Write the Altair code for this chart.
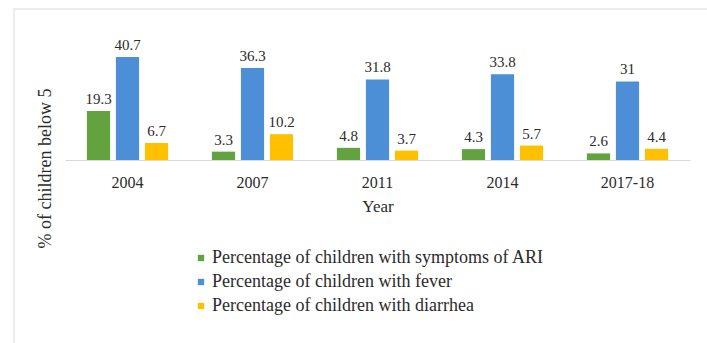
import altair as alt
import pandas as pd

years = ["2004", "2007", "2011", "2014", "2017-18"]
series = [
    "Percentage of children with symptoms of ARI",
    "Percentage of children with fever",
    "Percentage of children with diarrhea",
]
ari = [19.3, 3.3, 4.8, 4.3, 2.6]
fever = [40.7, 36.3, 31.8, 33.8, 31.0]
diarrhea = [6.7, 10.2, 3.7, 5.7, 4.4]
colors = ["#62A33F", "#4C8FD6", "#FFC000"]

rows = []
for vals, s in zip([ari, fever, diarrhea], series):
    for y, v in zip(years, vals):
        rows.append({"Year": y, "Series": s, "Value": v,
                     "Label": f"{v:g}"})
df = pd.DataFrame(rows)

FONT = "'Liberation Serif', 'Times New Roman', 'DejaVu Serif', serif"
TXT = "#2B2B2B"

x_enc = alt.X("Year:N", sort=years,
              scale=alt.Scale(paddingInner=0.304, paddingOuter=0.152),
              axis=alt.Axis(title="Year", labelAngle=0, ticks=False,
                            domainColor="#D9D9D9", labelFontSize=16,
                            labelFont=FONT, labelColor=TXT, labelPadding=14,
                            titleFont=FONT, titleFontSize=17, titleColor=TXT,
                            titleFontWeight="normal", titlePadding=8))
xo_enc = alt.XOffset("Series:N", sort=series,
                     scale=alt.Scale(paddingInner=0.2, paddingOuter=0.1))
y_enc = alt.Y("Value:Q", scale=alt.Scale(domain=[0, 45]),
              axis=alt.Axis(title="% of children below 5", labels=False,
                            ticks=False, domain=False, grid=False,
                            titleFont=FONT, titleFontSize=18, titleColor=TXT,
                            titleFontWeight="normal", titleAngle=270,
                            titleX=-20, titleY=122, titleAlign="center",
                            titleBaseline="middle"))

bars = alt.Chart(df).mark_bar().encode(
    x=x_enc, xOffset=xo_enc, y=y_enc,
    color=alt.Color("Series:N", sort=series,
                    scale=alt.Scale(domain=series, range=colors),
                    legend=alt.Legend(title=None, orient="none",
                                      legendX=127, legendY=203,
                                      direction="vertical",
                                      symbolType="square", symbolSize=40,
                                      labelFont=FONT, labelFontSize=18,
                                      labelColor=TXT, rowPadding=6,
                                      labelOffset=2, labelLimit=0)),
)

labels = alt.Chart(df).mark_text(
    dy=-12, font=FONT, fontSize=15, color=TXT
).encode(x=x_enc, xOffset=xo_enc, y=y_enc, text="Label:N")

frame = alt.Chart(pd.DataFrame({"a": [0]})).mark_rect(
    fill=None, stroke="#E6E6E6", strokeWidth=1.5
).encode(x=alt.value(-51), x2=alt.value(660), y=alt.value(-37),
         y2=alt.value(310))

chart = alt.layer(frame, bars, labels).properties(
    width=625, height=114,
    padding={"left": 65, "top": 46, "right": 17, "bottom": 183},
    autosize=alt.AutoSizeParams(type="none"),
    background="white",
).configure_view(stroke=None)

chart.save("out.html", embed_options={"renderer": "svg", "actions": False})
